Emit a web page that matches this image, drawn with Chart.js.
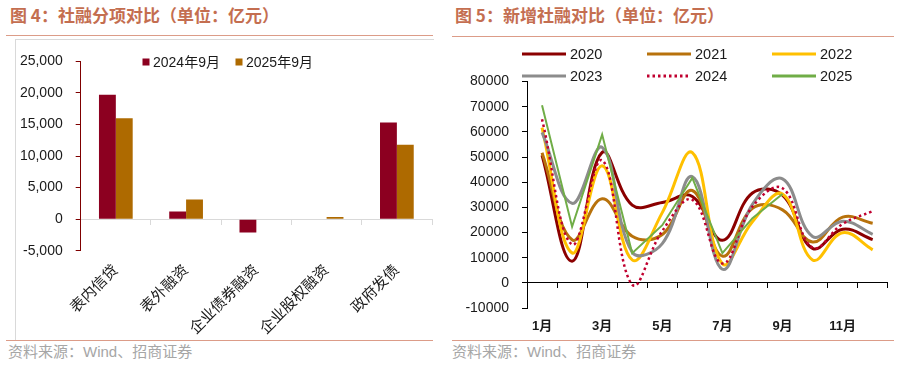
<!DOCTYPE html>
<html>
<head>
<meta charset="utf-8">
<script src="https://cdn.jsdelivr.net/npm/chart.js@4.4.1/dist/chart.umd.min.js"></script>
<style>
    body { margin: 0; width: 904px; height: 384px; background: #fff; position: relative; overflow: hidden;
           font-family: "Liberation Sans", "Noto Sans CJK SC", sans-serif; }
    .title { position: absolute; top: 3px; font-family: "Noto Sans CJK SC", sans-serif; font-weight: 700;
             font-size: 17px; line-height: 24px; color: #C46E50; white-space: nowrap; }
    .rule { position: absolute; height: 0; border-top: 1.5px solid #DC9C88; }
    .src { position: absolute; top: 342px; font-size: 15px; line-height: 20px; color: #A6A6A6; white-space: nowrap; }
    .frame { position: absolute; left: 15px; top: 39px; width: 418px; height: 300px;
             border-left: 1px solid #D9D9D9; border-top: 1px solid #D9D9D9; }
    canvas { position: absolute; }
</style>
</head>
<body>
<div class="title" style="left:10px">图 4：社融分项对比（单位：亿元）</div>
<div class="rule" style="left:6px; top:35px; width:427px"></div>
<div class="frame"></div>
<canvas id="itemChart" width="417" height="300" style="left:16px; top:40px"></canvas>
<div class="rule" style="left:6px; top:340px; width:427px"></div>
<div class="src" style="left:8px">资料来源：Wind、招商证券</div>

<div class="title" style="left:455px">图 5：新增社融对比（单位：亿元）</div>
<div class="rule" style="left:452px; top:36px; width:442px"></div>
<canvas id="flowChart" width="452" height="300" style="left:452px; top:38px"></canvas>
<div class="rule" style="left:452px; top:340px; width:442px"></div>
<div class="src" style="left:452px">资料来源：Wind、招商证券</div>

<script>
// 图4：社融分项（亿元）
const itemCats = ['表内信贷', '表外融资', '企业债券融资', '企业股权融资', '政府发债'];
const sep2024 = [19700, 1200, -2100, 0, 15300];
const sep2025 = [16000, 3100, 0, 350, 11800];

// 图5：新增社融（亿元）
const months = ['1月', '2月', '3月', '4月', '5月', '6月', '7月', '8月', '9月', '10月', '11月', '12月'];
const y2020 = [50700, 8600, 51800, 30900, 31900, 34300, 16900, 35700, 34800, 13700, 21300, 17200];
const y2021 = [51700, 17100, 33400, 18500, 19200, 36700, 10600, 29600, 29000, 16200, 26100, 23700];
const y2022 = [61700, 11900, 46500, 9100, 27900, 51700, 7600, 24300, 35300, 9100, 19900, 13100];
const y2023 = [59800, 31600, 53800, 12200, 15600, 42200, 5400, 31200, 41300, 18400, 24500, 19300];
const y2024 = [65000, 15200, 48700, -700, 20600, 33000, 7700, 30300, 37600, 14000, 23400, 28500];
const y2025 = [70600, 22300, 58900, 11800, 22900, 41700, 11800, 25700, 35300];

Chart.defaults.font.family = '"Liberation Sans", "Noto Sans CJK SC", sans-serif';
Chart.defaults.color = '#1a1a1a';

// 图例自己画，位置和原图一致
const ownLegend = {
    id: 'ownLegend',
    afterDraw(chart, args, o) {
        const ctx = chart.ctx;
        ctx.save();
        ctx.font = o.font;
        ctx.textBaseline = 'middle';
        chart.data.datasets.forEach((ds, i) => {
            const x = o.x + (i % o.cols) * o.colW;
            const y = o.y + Math.floor(i / o.cols) * o.rowH;
            if (o.mark === 'box') {
                ctx.fillStyle = ds.backgroundColor;
                ctx.fillRect(x, y - o.size / 2, o.size, o.size);
            } else {
                ctx.strokeStyle = ds.borderColor;
                ctx.lineWidth = 3;
                ctx.setLineDash(ds.borderDash || []);
                ctx.beginPath();
                ctx.moveTo(x, y);
                ctx.lineTo(x + o.size, y);
                ctx.stroke();
                ctx.setLineDash([]);
            }
            ctx.fillStyle = '#1a1a1a';
            ctx.fillText(ds.label, x + o.size + o.gap, y + 1);
        });
        ctx.restore();
    }
};

new Chart(document.getElementById('itemChart').getContext('2d'), {
    type: 'bar',
    data: {
        labels: itemCats,
        datasets: [
            { label: '2024年9月', data: sep2024, backgroundColor: '#8C0020', categoryPercentage: 0.48, barPercentage: 1 },
            { label: '2025年9月', data: sep2025, backgroundColor: '#AE6A00', categoryPercentage: 0.48, barPercentage: 1 }
        ]
    },
    plugins: [ownLegend],
    options: {
        responsive: false,
        animation: false,
        layout: { padding: { left: 0, top: 12.3, right: 1, bottom: 0 } },
        plugins: {
            legend: { display: false },
            tooltip: { enabled: false },
            ownLegend: { mark: 'box', x: 126.5, y: 22, cols: 2, colW: 93, rowH: 20, size: 7, gap: 3.5, font: '14px "Liberation Sans", "Noto Sans CJK SC"' }
        },
        scales: {
            x: {
                offset: true,
                border: { display: false },
                grid: { display: false, drawTicks: false },
                ticks: { minRotation: 45, maxRotation: 45, autoSkip: false, padding: 11, font: { size: 15 }, color: '#1a1a1a' },
                afterFit: s => { s.height = 89.3; }
            },
            x2: {
                axis: 'x',
                type: 'category',
                position: { y: 0 },
                offset: true,
                border: { color: '#D9D9D9', width: 1 },
                grid: { offset: true, drawOnChartArea: false, drawTicks: true, tickLength: 5, color: '#D9D9D9' },
                ticks: { display: false }
            },
            y: {
                min: -5000,
                max: 25000,
                border: { color: '#7F0000', width: 1 },
                grid: { drawOnChartArea: false, drawTicks: true, tickLength: 5, color: '#7F0000' },
                ticks: { stepSize: 5000, padding: 13, font: { size: 14 }, color: '#1a1a1a',
                         callback: v => v.toLocaleString('en-US') },
                afterFit: s => { s.width = 64.7; }
            }
        }
    }
});

function lineSet(label, data, color, extra) {
    return Object.assign({
        label: label,
        data: data,
        borderColor: color,
        backgroundColor: color,
        borderWidth: 3,
        pointRadius: 0,
        tension: 0.4,
        fill: false
    }, extra || {});
}

new Chart(document.getElementById('flowChart').getContext('2d'), {
    type: 'line',
    data: {
        labels: months,
        datasets: [
            lineSet('2020', y2020, '#8B0000', { order: 6 }),
            lineSet('2021', y2021, '#B8720C', { order: 5 }),
            lineSet('2022', y2022, '#FFC000', { order: 4 }),
            lineSet('2023', y2023, '#8C8C8C', { order: 3 }),
            lineSet('2024', y2024, '#C0002F', { order: 2, borderWidth: 2.5, borderDash: [2.5, 3] }),
            lineSet('2025', y2025, '#70AD47', { order: 1, borderWidth: 2, tension: 0 })
        ]
    },
    plugins: [ownLegend],
    options: {
        responsive: false,
        animation: false,
        layout: { padding: { left: 0, top: 43.5, right: 16.3, bottom: 0 } },
        plugins: {
            legend: { display: false },
            tooltip: { enabled: false },
            ownLegend: { mark: 'line', x: 70, y: 16, cols: 3, colW: 125, rowH: 22, size: 44, gap: 4, font: '14.5px "Liberation Sans"' }
        },
        scales: {
            x: {
                offset: true,
                border: { display: false },
                grid: { display: false, drawTicks: false },
                ticks: { autoSkip: false, maxRotation: 0, padding: 11, font: { size: 13, weight: 'bold' }, color: '#1a1a1a',
                         callback: (v, i) => (i % 2 === 0 ? months[i] : '') },
                afterFit: s => { s.height = 30; }
            },
            x2: {
                axis: 'x',
                type: 'category',
                position: { y: 0 },
                offset: true,
                border: { color: '#000', width: 1 },
                grid: { offset: true, drawOnChartArea: false, drawTicks: true, tickLength: 5, color: '#000' },
                ticks: { display: false }
            },
            y: {
                min: -10000,
                max: 80000,
                border: { color: '#000', width: 1 },
                grid: { drawOnChartArea: false, drawTicks: true, tickLength: 5, color: '#000' },
                ticks: { stepSize: 10000, padding: 13, font: { size: 14 }, color: '#1a1a1a', callback: v => String(v) },
                afterFit: s => { s.width = 75; }
            }
        }
    }
});
</script>
</body>
</html>
